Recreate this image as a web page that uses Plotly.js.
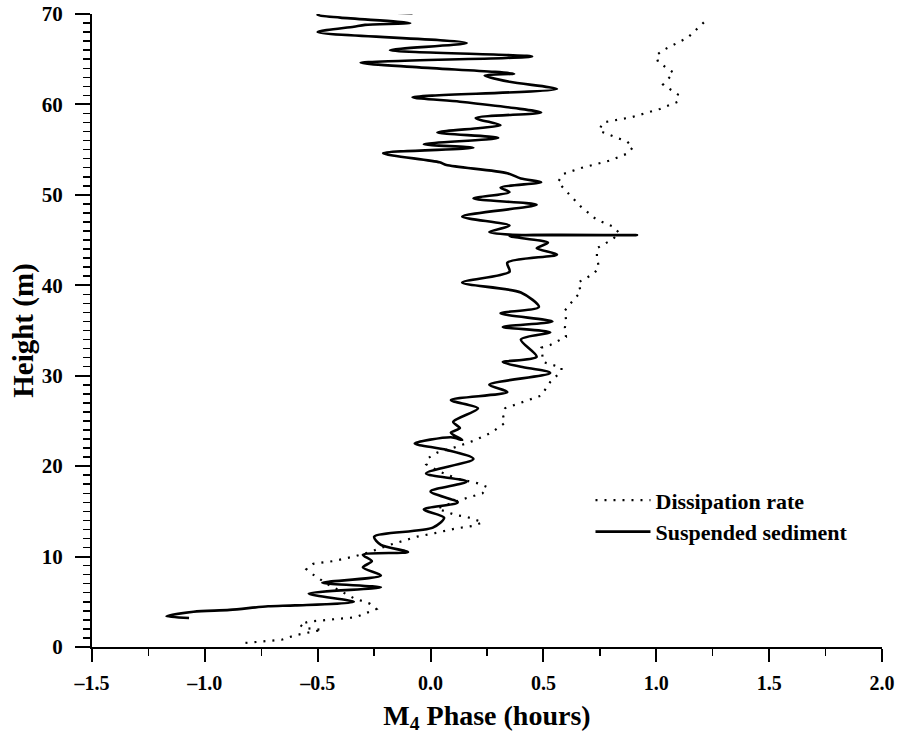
<!DOCTYPE html>
<html>
<head>
<meta charset="utf-8">
<script src="https://cdn.plot.ly/plotly-3.0.1.min.js"></script>
<style>html,body{margin:0;padding:0;background:#fff;}#chart{width:897px;height:738px;}</style>
</head>
<body>
<div id="chart"></div>
<script>
// Dissipation rate (dotted) : phase (hours) vs height (m)
const dissPhase = [-0.82,-0.74,-0.66,-0.60,-0.52,-0.48,-0.56,-0.58,-0.54,-0.46,-0.40,-0.33,-0.28,-0.24,-0.27,-0.34,-0.40,-0.46,-0.52,-0.55,-0.52,-0.43,-0.34,-0.27,-0.18,-0.10,-0.06,0.02,0.11,0.19,0.23,0.16,0.11,0.03,0.09,0.15,0.19,0.23,0.25,0.21,0.12,0.04,-0.02,-0.01,0.03,0.11,0.19,0.27,0.33,0.32,0.33,0.41,0.49,0.53,0.58,0.58,0.54,0.50,0.49,0.53,0.60,0.595,0.60,0.595,0.617,0.666,0.653,0.724,0.746,0.737,0.737,0.808,0.835,0.808,0.733,0.666,0.613,0.564,0.587,0.671,0.795,0.839,0.875,0.897,0.870,0.826,0.746,0.764,0.892,1.016,1.096,1.096,1.030,1.077,1.008,0.999,1.030,1.140,1.229];
const dissHeight = [0.45,0.6,0.8,1.3,1.7,1.9,2.1,2.5,2.8,3.0,3.1,3.3,3.8,4.2,4.8,5.4,6.2,7.0,8.0,8.6,9.2,9.5,10.0,10.5,11.3,11.9,12.2,12.6,13.1,13.4,13.8,14.4,14.6,15.3,15.9,16.4,16.7,17.0,17.7,18.1,18.6,19.4,20.2,20.9,21.5,22.1,22.8,23.7,24.8,25.7,26.4,27.1,27.8,29.3,30.5,30.9,31.2,31.5,33.1,33.4,34.3,35.3,36.2,37.2,37.9,39.3,40.3,41.3,42.0,43.0,44.1,45.1,45.8,46.5,47.3,48.7,50.1,51.4,52.3,53.0,53.8,54.2,54.6,55.3,55.9,56.3,57.1,58.0,58.6,59.5,60.3,61.1,62.2,63.5,64.7,65.4,66.0,67.4,69.5];

// Suspended sediment (solid) : phase (hours) vs height (m)
const sedPhase = [-1.07,-1.17,-1.05,-0.89,-0.72,-0.60,-0.34,-0.54,-0.22,-0.48,-0.22,-0.30,-0.26,-0.30,-0.10,-0.22,-0.25,0.01,0.06,-0.03,0.12,0.00,0.16,-0.02,0.19,0.07,-0.07,0.09,0.14,0.09,0.13,0.10,0.21,0.09,0.34,0.26,0.53,0.40,0.32,0.47,0.40,0.53,0.32,0.54,0.31,0.48,0.40,0.14,0.35,0.34,0.56,0.47,0.52,0.35,0.915,0.35,0.26,0.35,0.14,0.47,0.19,0.35,0.31,0.49,0.40,0.34,0.07,0.04,-0.21,0.19,-0.03,0.30,0.03,0.22,0.31,0.20,0.49,0.37,0.13,-0.08,0.56,0.35,0.24,0.37,-0.05,-0.31,0.45,-0.18,0.16,-0.50,-0.34,-0.29,-0.09,-0.40,-0.50,-0.49,-0.08];
const sedHeight = [3.2,3.4,3.9,4.1,4.5,4.6,5.0,5.9,6.6,7.1,7.9,8.8,9.5,10.2,10.5,11.3,12.2,13.2,14.3,15.2,16.0,17.2,18.3,19.2,20.8,21.8,22.5,23.2,22.9,23.7,24.2,24.9,26.4,27.3,28.2,29.0,30.3,31.0,31.5,32.1,34.0,34.8,35.4,36.0,36.9,37.6,39.2,40.3,41.5,42.5,43.4,44.1,44.7,45.45,45.55,45.6,45.9,46.6,47.6,48.9,49.6,50.3,50.8,51.4,51.8,52.4,53.3,53.6,54.6,55.2,55.6,56.3,56.9,57.4,57.7,58.5,59.1,59.6,60.3,60.8,61.7,62.5,63.2,63.4,64.1,64.6,65.3,66.0,66.8,68.0,68.6,68.8,69.0,69.6,69.9,70.1,70.1];

const xTickVals = [-1.5,-1.0,-0.5,0.0,0.5,1.0,1.5,2.0];
const yTickVals = [0,10,20,30,40,50,60,70];
const seriesNames = ['Dissipation rate','Suspended sediment'];

const serif = 'Liberation Serif, Times New Roman, serif';

const traces = [
  {x: dissPhase, y: dissHeight, name: seriesNames[0], legendgroup: 'a', mode: 'lines', type: 'scatter',
   line: {color: '#000', width: 2.2, dash: '2px,7px'}},
  {x: sedPhase, y: sedHeight, name: seriesNames[1], legendgroup: 'b', mode: 'lines', type: 'scatter',
   line: {color: '#000', width: 2.6, shape: 'spline', smoothing: 0.8}}
];

const layout = {
  width: 897, height: 738,
  margin: {l: 92, r: 15, t: 14, b: 91},
  paper_bgcolor: '#fff', plot_bgcolor: '#fff',
  showlegend: true,
  legend: {x: 0.631, y: 0.265, xanchor: 'left', yanchor: 'top', bgcolor: 'rgba(0,0,0,0)',
    font: {family: serif, size: 22, color: '#000', weight: 'bold'}, tracegroupgap: 0, itemwidth: 55},
  xaxis: {
    range: [-1.5, 2.0], tickvals: xTickVals, ticktext: xTickVals.map(v => (v < 0 ? '\u2013' : '') + Math.abs(v).toFixed(1)),
    showgrid: false, zeroline: false, showline: true, linecolor: '#000', linewidth: 2,
    ticks: 'outside', ticklen: 13, tickwidth: 2, tickcolor: '#000', ticklabelstandoff: 4,
    minor: {dtick: 0.25, tick0: -1.5, ticks: 'outside', ticklen: 7, tickwidth: 1.5, tickcolor: '#000', showgrid: false},
    tickfont: {family: serif, size: 20, color: '#000', weight: 'bold'},
    title: {text: 'M<sub>4</sub> Phase (hours)', font: {family: serif, size: 28, color: '#000', weight: 'bold'}, standoff: 12}
  },
  yaxis: {
    range: [0, 70], tickvals: yTickVals,
    showgrid: false, zeroline: false, showline: true, linecolor: '#000', linewidth: 2,
    ticks: 'outside', ticklen: 15, tickwidth: 2, tickcolor: '#000', ticklabelstandoff: 8,
    minor: {dtick: 1, tick0: 0, ticks: 'outside', ticklen: 7, tickwidth: 1.5, tickcolor: '#000', showgrid: false},
    tickfont: {family: serif, size: 21, color: '#000', weight: 'bold'},
    title: {text: 'Height (m)', font: {family: serif, size: 29, color: '#000', weight: 'bold'}, standoff: 0}
  }
};

Plotly.newPlot('chart', traces, layout, {displayModeBar: false, staticPlot: true});
</script>
</body>
</html>
